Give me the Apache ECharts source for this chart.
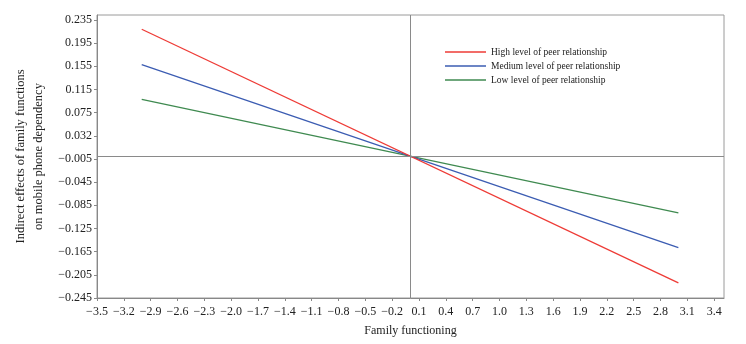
<!DOCTYPE html>
<html>
<head>
<meta charset="utf-8">
<script src="https://cdn.jsdelivr.net/npm/echarts@6/dist/echarts.min.js"></script>
<style>
  html, body { margin: 0; padding: 0; background: #fff; }
  #chart { width: 746px; height: 344px; }
</style>
</head>
<body>
<div id="chart"></div>
<script>
// x = family functioning, lines drawn between the two end points
const familyX = [-3.0, 3.0]
const highPeer = [0.219, -0.219]
const mediumPeer = [0.158, -0.158]
const lowPeer = [0.098, -0.098]

const seriesNames = [
  'High level of peer relationship',
  'Medium level of peer relationship',
  'Low level of peer relationship'
]
const lineColors = ['#ee3b36', '#3b5cb2', '#3f8a50']

const font = '"Liberation Serif", "DejaVu Serif", serif'
const minus = s => s.replace('-', '\u2212')

const pairs = vals => familyX.map((x, i) => [x, vals[i]])

const chart = echarts.init(document.getElementById('chart'))

const option = {
  animation: false,
  textStyle: { fontFamily: font },
  grid: {
    left: 97, right: 22, top: 15, bottom: 46,
    show: true,
    borderColor: '#9a9a9a',
    borderWidth: 1
  },
  legend: {
    orient: 'vertical',
    left: 440,
    top: 42,
    icon: 'rect',
    itemWidth: 41,
    itemHeight: 1.4,
    itemGap: 4,
    textStyle: { fontFamily: font, fontSize: 9.5, color: '#222' },
    data: seriesNames
  },
  xAxis: {
    type: 'value',
    min: -3.5,
    max: 3.51,
    interval: 0.3,
    name: 'Family functioning',
    nameLocation: 'middle',
    nameGap: 27,
    nameTextStyle: { fontFamily: font, fontSize: 12, color: '#222' },
    axisLine: { onZero: false, lineStyle: { color: '#888' } },
    axisTick: { length: 3, lineStyle: { color: '#888' } },
    axisLabel: {
      showMaxLabel: false,
      margin: 8,
      fontSize: 12,
      color: '#222',
      formatter: v => minus(v.toFixed(1))
    },
    splitLine: { show: false }
  },
  yAxis: {
    type: 'value',
    min: -0.245,
    max: 0.2436,
    interval: 0.04,
    name: 'Indirect effects of family functions\non mobile phone dependency',
    nameLocation: 'middle',
    nameGap: 46,
    nameTextStyle: { fontFamily: font, fontSize: 12.5, color: '#222', lineHeight: 18 },
    axisLine: { onZero: false, lineStyle: { color: '#888' } },
    axisTick: { length: 3, lineStyle: { color: '#888' } },
    axisLabel: {
      showMaxLabel: false,
      margin: 5,
      fontSize: 12,
      color: '#222',
      formatter: v => {
        const s = v.toFixed(3)
        if (s === '0.035') return '0.032'
        return minus(s)
      }
    },
    splitLine: { show: false }
  },
  series: [highPeer, mediumPeer, lowPeer].map((vals, i) => ({
    name: seriesNames[i],
    type: 'line',
    symbol: 'none',
    data: pairs(vals),
    lineStyle: { color: lineColors[i], width: 1.3 },
    itemStyle: { color: lineColors[i] },
    markLine: i === 0 ? {
      silent: true,
      symbol: 'none',
      label: { show: false },
      lineStyle: { color: '#8a8a8a', type: 'solid', width: 1 },
      data: [{ xAxis: 0 }, { yAxis: 0 }]
    } : undefined,
    z: 3 - i
  }))
}

chart.setOption(option)
</script>
</body>
</html>
